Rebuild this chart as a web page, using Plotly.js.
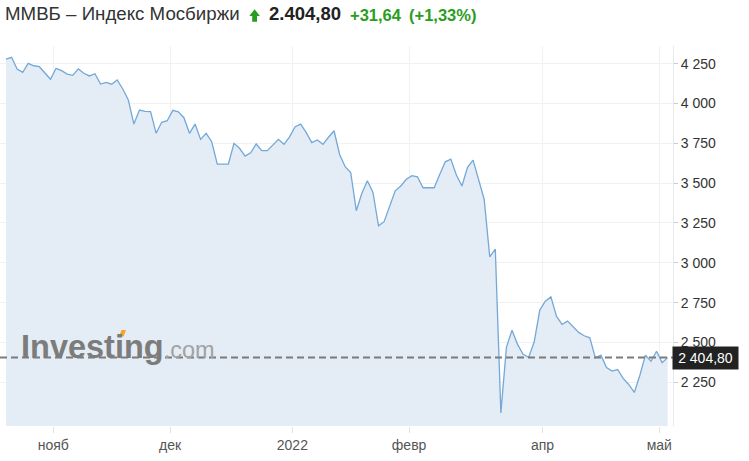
<!DOCTYPE html>
<html>
<head>
<meta charset="utf-8">
<script src="https://cdn.plot.ly/plotly-3.0.1.min.js"></script>
<style>
html,body{margin:0;padding:0;background:#fff;}
#chart{width:749px;height:461px;}
</style>
</head>
<body>
<div id="chart"></div>
<script>
// ---- data ----
const dates = [
'2021-10-19','2021-10-20','2021-10-21','2021-10-22','2021-10-25','2021-10-26','2021-10-27','2021-10-28','2021-10-29',
'2021-11-01','2021-11-02','2021-11-03','2021-11-05','2021-11-08','2021-11-09','2021-11-10','2021-11-11','2021-11-12',
'2021-11-15','2021-11-16','2021-11-17','2021-11-18','2021-11-19','2021-11-22','2021-11-23','2021-11-24','2021-11-25',
'2021-11-26','2021-11-29','2021-11-30',
'2021-12-01','2021-12-02','2021-12-03','2021-12-06','2021-12-07','2021-12-08','2021-12-09','2021-12-10','2021-12-13',
'2021-12-14','2021-12-15','2021-12-16','2021-12-17','2021-12-20','2021-12-21','2021-12-22','2021-12-23','2021-12-24',
'2021-12-27','2021-12-28','2021-12-29','2021-12-30',
'2022-01-03','2022-01-04','2022-01-05','2022-01-06','2022-01-07','2022-01-10','2022-01-11','2022-01-12','2022-01-13',
'2022-01-14','2022-01-17','2022-01-18','2022-01-19','2022-01-20','2022-01-21','2022-01-24','2022-01-25','2022-01-26',
'2022-01-27','2022-01-28','2022-01-31',
'2022-02-01','2022-02-02','2022-02-03','2022-02-04','2022-02-07','2022-02-08','2022-02-09','2022-02-10','2022-02-11',
'2022-02-14','2022-02-15','2022-02-16','2022-02-17','2022-02-18','2022-02-21','2022-02-22','2022-02-24','2022-02-25',
'2022-03-24','2022-03-25','2022-03-28','2022-03-29','2022-03-30','2022-03-31',
'2022-04-01','2022-04-04','2022-04-05','2022-04-06','2022-04-07','2022-04-08','2022-04-11','2022-04-12','2022-04-13',
'2022-04-14','2022-04-15','2022-04-18','2022-04-19','2022-04-20','2022-04-21','2022-04-22','2022-04-25','2022-04-26',
'2022-04-27','2022-04-28','2022-04-29',
'2022-05-04','2022-05-05'
];
const closeValues = [
4278,4290,4217,4196,4252,4237,4231,4191,4152,
4221,4206,4185,4177,4217,4190,4173,4187,4122,
4133,4121,4148,4091,4022,3871,3959,3951,3949,
3813,3882,3892,
3957,3948,3911,3813,3871,3775,3813,3760,3620,
3620,3620,3750,3719,3670,3691,3746,3704,3704,
3739,3775,3744,3791,
3854,3871,3817,3754,3771,3744,3788,3829,3680,
3603,3567,3327,3436,3515,3442,3232,3258,3358,
3452,3482,3524,
3547,3540,3471,3471,3471,3555,3634,3651,3551,
3482,3599,3645,3524,3399,3038,3086,2058,2469,
2577,2488,2426,2406,2504,2703,
2759,2786,2665,2613,2634,2598,2563,2542,2529,
2403,2420,2343,2320,2330,2274,2236,2186,2294,
2420,2382,2445,
2373.16,2404.80
];
const tickMonths = ['2021-11','2021-12','2022-01','2022-02','2022-04','2022-05'];
const tickLabels = ['нояб','дек','2022','февр','апр','май'];
const yTickValues = [2250,2500,2750,3000,3250,3500,3750,4000,4250];
const titleText = 'ММВБ – Индекс Мосбиржи';
const priceText = '2.404,80';
const changeText = '+31,64';
const changePctText = '(+1,33%)';
const lastLabel = '2 404,80';
const lastValue = closeValues[closeValues.length - 1];

// ---- layout geometry ----
const PL = 0, PR = 673, PT = 46, PB = 426;
const px = x => (x - PL) / (PR - PL);
const py = y => (PB - y) / (PB - PT);

const tickVals = tickMonths.map(m => dates.findIndex(d => d.startsWith(m)) - 0.5);

const green = '#2a9d1f';
const font = 'Liberation Sans, Arial, sans-serif';

const trace = {
  x: dates,
  y: closeValues,
  type: 'scatter',
  mode: 'lines',
  line: {color: '#74a8d8', width: 1.3},
  fill: 'tozeroy',
  fillcolor: '#e4edf5',
  hoverinfo: 'skip'
};

const arrowPts = [[249.3,16],[254.6,9.2],[259.9,16],[257,16],[257,21.8],[252.2,21.8],[252.2,16]];
const arrowPath = 'M ' + arrowPts.map(p => px(p[0]) + ',' + py(p[1])).join(' L ') + ' Z';

const layout = {
  width: 749, height: 461,
  margin: {l: PL, r: 749 - PR, t: PT, b: 461 - PB, pad: 0},
  paper_bgcolor: '#ffffff',
  plot_bgcolor: '#ffffff',
  separators: ', ',
  showlegend: false,
  font: {family: font, color: '#333'},
  xaxis: {
    type: 'category',
    range: [-1.08, 119.96],
    tickmode: 'array',
    tickvals: tickVals,
    ticktext: tickLabels,
    ticks: 'outside', ticklen: 6, tickcolor: '#e2e2e2', tickwidth: 1,
    showgrid: true, gridcolor: '#f0f1f3', gridwidth: 1,
    showline: false, zeroline: false,
    tickfont: {family: font, size: 14, color: '#555'},
    fixedrange: true
  },
  yaxis: {
    side: 'right',
    range: [1975.5, 4361],
    tickmode: 'array',
    tickvals: yTickValues,
    tickformat: ',d',
    ticks: 'outside', ticklen: 4, tickcolor: '#cccccc',
    showgrid: true, gridcolor: '#f0f1f3', gridwidth: 1,
    showline: true, linecolor: '#e6e9ee', linewidth: 1,
    zeroline: false,
    tickfont: {family: font, size: 14, color: '#333'},
    fixedrange: true
  },
  shapes: [
    {type: 'line', xref: 'paper', yref: 'y', x0: 0, x1: 1, y0: lastValue, y1: lastValue,
     line: {color: '#7b7b7b', width: 2, dash: '7px,4px'}},
    {type: 'path', xref: 'paper', yref: 'paper', path: arrowPath,
     fillcolor: green, line: {width: 0}},
    {type: 'path', xref: 'paper', yref: 'paper',
     path: 'M ' + px(119) + ',' + py(336.5) + ' L ' + px(121.5) + ',' + py(330) + ' L ' + px(126) + ',' + py(330) + ' L ' + px(123.5) + ',' + py(336.5) + ' Z',
     fillcolor: '#f4a52a', line: {width: 0}, layer: 'above'}
  ],
  annotations: [
    {xref: 'paper', yref: 'paper', x: px(4), y: py(14), xanchor: 'left', yanchor: 'middle',
     text: titleText, showarrow: false, borderpad: 0,
     font: {family: font, size: 18.7, color: '#333'}},
    {xref: 'paper', yref: 'paper', x: px(267.5), y: py(14), xanchor: 'left', yanchor: 'middle',
     text: '<b>' + priceText + '</b>', showarrow: false, borderpad: 0,
     font: {family: font, size: 18.5, color: '#222'}},
    {xref: 'paper', yref: 'paper', x: px(348.5), y: py(14.8), xanchor: 'left', yanchor: 'middle',
     text: '<b>' + changeText + '</b>', showarrow: false, borderpad: 0,
     font: {family: font, size: 16.5, color: green}},
    {xref: 'paper', yref: 'paper', x: px(407.5), y: py(14.8), xanchor: 'left', yanchor: 'middle',
     text: '<b>' + changePctText + '</b>', showarrow: false, borderpad: 0,
     font: {family: font, size: 16.5, color: green}},
    {xref: 'paper', yref: 'paper', x: px(20), y: py(347), xanchor: 'left', yanchor: 'middle',
     text: '<b>Investing</b><span style="font-size:23.5px;font-weight:normal;color:#a2a2a2">.com</span>',
     showarrow: false, borderpad: 0,
     font: {family: font, size: 32.5, color: '#7c7c7c'}},
    {xref: 'paper', yref: 'y', x: px(672), y: lastValue, xanchor: 'left', yanchor: 'middle',
     text: lastLabel, showarrow: false, bgcolor: '#222222', borderpad: 2,
     width: 61, height: 18, align: 'center',
     font: {family: font, size: 14, color: '#ffffff'}}
  ]
};

Plotly.newPlot('chart', [trace], layout, {staticPlot: true, displayModeBar: false});
</script>
</body>
</html>
